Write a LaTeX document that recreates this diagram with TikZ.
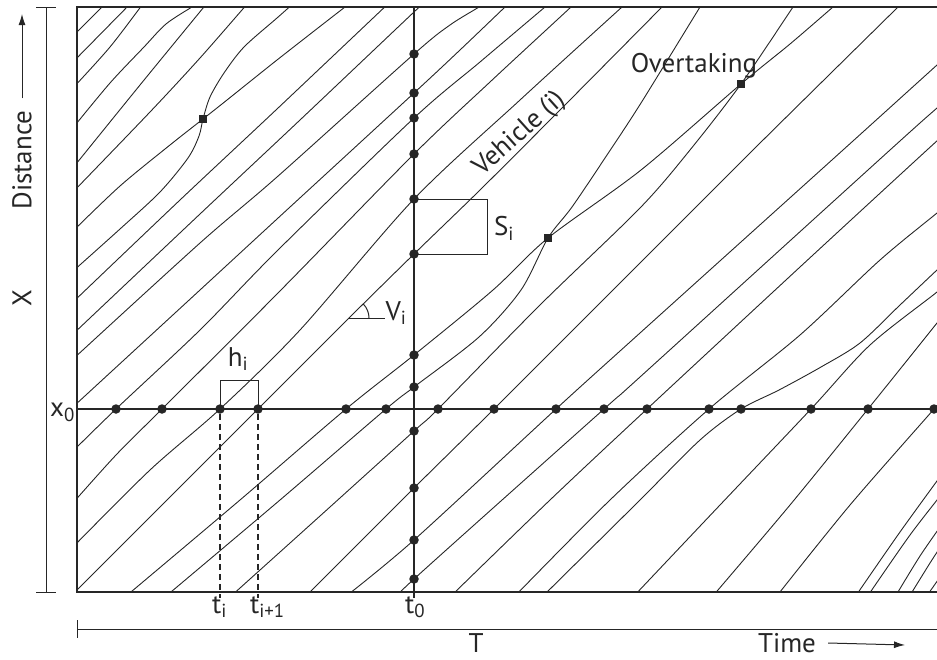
\documentclass[tikz,border=0pt]{standalone}
\usepackage{fontspec}
\setmainfont{PT Sans}
\usetikzlibrary{arrows.meta}
\definecolor{ink}{HTML}{262626}

\begin{document}
\begin{tikzpicture}[x=1pt, y=-1pt,
    veh/.style={draw=ink, line width=0.9pt},
    frame/.style={draw=ink, line width=1.2pt},
    arr/.style={draw=ink, line width=1pt, -{Latex[length=11pt,width=7pt]}},
    dot/.style={circle, fill=ink, inner sep=0, minimum size=9.5pt},
    pass/.style={rectangle, fill=ink, inner sep=0, minimum size=8.5pt},
    lbl/.style={text=ink, font=\fontsize{27}{30}\selectfont, inner sep=0}
]
\useasboundingbox (0,0) rectangle (937,659);

% Trajectories
\begin{scope}
\clip (77,7) rectangle (937,592);
\draw[veh] plot[smooth] coordinates {(66,43) (106,3)};
\draw[veh] plot[smooth] coordinates {(72,63) (132,2)};
\draw[veh] plot[smooth] coordinates {(72,89) (110,47) (145,1)};
\draw[veh] plot[smooth] coordinates {(72,129) (110,83) (144,47) (166,24) (192,7) (200,3)};
\draw[veh] plot[smooth] coordinates {(72,169) (140,85) (208,2)};
\draw[veh] plot[smooth] coordinates {(72,193) (150,112) (200,58) (248,3)};
\draw[veh] plot[smooth] coordinates {(72,232) (120,186) (170,145) (203,119) (227,100) (277,60) (345,7) (352,2)};
\draw[veh] plot[smooth] coordinates {(72,272) (120,229) (160,192) (188,158) (199,136) (203,119) (210,97) (224,73) (244,47) (277,18) (295,2)};
\draw[veh] plot[smooth] coordinates {(72,303) (180,200) (277,109) (390,2)};
\draw[veh] plot[smooth] coordinates {(72,335) (200,214) (300,120) (414,12) (425,2)};
\draw[veh] plot[smooth] coordinates {(72,360) (200,243) (277,177) (414,54) (450,25) (479,7) (485,2)};
\draw[veh] plot[smooth] coordinates {(74,406) (200,290) (277,219) (414,93) (460,50) (505,7) (510,2)};
\draw[veh] plot[smooth] coordinates {(72,452) (116,409) (200,330) (277,251) (414,118) (480,62) (545,7) (551,2)};
\draw[veh] plot[smooth] coordinates {(72,504) (116,455) (162,409) (277,294) (414,154) (490,82) (571,7) (576,2)};
\draw[veh] plot[smooth] coordinates {(72,548) (150,470) (220,409) (300,330) (414,199) (520,100) (622,7) (628,2)};
\draw[veh] plot[smooth] coordinates {(72,595) (180,487) (258,409) (349,318) (414,254) (480,190) (560,110) (662,7) (667,2)};
\draw[veh] plot[smooth] coordinates {(125,597) (240,500) (346,409) (414,355) (493,290) (548,238) (641,170) (741,84) (790,44) (833,7) (839,2)};
\draw[veh] plot[smooth] coordinates {(165,597) (280,500) (386,409) (414,387) (479,337) (521,290) (548,238) (572,207) (607,155) (641,103) (700,7) (704,1)};
\draw[veh] plot[smooth] coordinates {(230,597) (320,516) (414,431) (438,409) (540,305) (640,208) (690,150) (741,84) (793,7) (797,1)};
\draw[veh] plot[smooth] coordinates {(305,597) (414,488) (494,409) (640,263) (753,150) (898,7) (903,2)};
\draw[veh] plot[smooth] coordinates {(345,597) (414,540) (556,409) (640,333) (843,150) (937,65) (945,58)};
\draw[veh] plot[smooth] coordinates {(398,597) (414,579) (604,409) (640,377) (890,150) (937,108) (945,101)};
\draw[veh] plot[smooth] coordinates {(450,597) (550,500) (647,409) (800,267) (927,150) (945,134)};
\draw[veh] plot[smooth] coordinates {(514,597) (610,500) (709,409) (800,335) (880,260) (937,213) (945,206)};
\draw[veh] plot[smooth] coordinates {(542,597) (640,500) (700,440) (741,409) (779,390) (821,367) (860,343) (900,305) (937,270) (945,263)};
\draw[veh] plot[smooth] coordinates {(633,597) (720,505) (811,409) (870,345) (937,292) (945,283)};
\draw[veh] plot[smooth] coordinates {(712,597) (790,505) (868,409) (937,323) (945,313)};
\draw[veh] plot[smooth] coordinates {(776,597) (850,505) (934,409) (945,396)};
\draw[veh] plot[smooth] coordinates {(855,597) (900,532) (945,470)};
\draw[veh] plot[smooth] coordinates {(867,597) (910,535) (945,490)};
\draw[veh] plot[smooth] coordinates {(895,597) (920,556) (945,520)};
\draw[veh] plot[smooth] coordinates {(909,597) (930,563) (945,540)};
\draw[veh] plot[smooth] coordinates {(926,597) (945,570)};
\end{scope}

% Frame and reference lines
\draw[frame] (937,7) -- (77,7) -- (77,592) -- (937,592);
\coordinate (x0l) at (77,409);
\coordinate (x0r) at (937,409);
\coordinate (t0t) at (414,7);
\coordinate (t0b) at (414,598);
\draw[frame] (x0l) -- (x0r);
\draw[frame] (t0t) -- (t0b);

% Detectors
\foreach \t [count=\k] in {116,162,220,258,346,386,438,494,556,604,647,709,741,811,868,934}
  \node[dot] (h\k) at (\t,409) {};
\foreach \s [count=\k] in {54,93,118,154,199,254,355,387,431,488,540,579}
  \node[dot] (v\k) at (414,\s) {};
\node[pass] (ov1) at (203,119) {};
\node[pass] (ov2) at (548,238) {};
\node[pass] (ov3) at (741,84) {};

% Headway, spacing, speed
\coordinate (ti) at (220,598);
\coordinate (tj) at (258,598);
\draw[ink, line width=1.6pt, dash pattern=on 6pt off 4pt] (h3) -- (ti);
\draw[ink, line width=1.6pt, dash pattern=on 6pt off 4pt] (h4) -- (tj);
\draw[ink, line width=1pt] (h3.center) -- ++(0,-29) -| (h4.center);
\draw[ink, line width=1pt] (v5.center) -- ++(73,0) |- (v6.center);
\coordinate (vv) at (349,318);
\draw[ink, line width=1pt] (vv) -- ++(36,0);
\draw[ink, line width=1pt] (vv) ++(20,0) arc[start angle=0, end angle=-45, radius=20];

% Labels
\node[lbl] at (238,359) {h\textsubscript{i}};
\node[lbl] at (504,228) {S\textsubscript{i}};
\node[lbl] at (396,313) {V\textsubscript{i}};
\node[lbl] at (694,66) {Overtaking};
\node[lbl, rotate=42] at (520,134) {Vehicle (i)};
\node[lbl, anchor=east] at (75,412) {x\textsubscript{0}};
\node[lbl, anchor=north west] at (212,596) {t\textsubscript{i}};
\node[lbl, anchor=north west] at (250,596) {t\textsubscript{i+1}};
\node[lbl, anchor=north west] at (405,596) {t\textsubscript{0}};

% Axes
\draw[ink, line width=1pt] (46,7) -- (46,592);
\draw[ink, line width=1pt] (36,7) -- (56,7) (36,592) -- (56,592);
\node[lbl, rotate=90] (xlab) at (22,298) {X};
\node[lbl, rotate=90] (dist) at (22,160) {Distance};
\coordinate (up) at (22,14);
\draw[arr] ([yshift=12pt]dist.east) -- (up);
\draw[ink, line width=1pt] (77,629) -- (937,629);
\draw[ink, line width=1pt] (77,620) -- (77,638);
\node[lbl] (tlab) at (476,643) {T};
\node[lbl] (time) at (787,643) {Time};
\coordinate (right) at (905,645);
\draw[arr] ([xshift=12pt]time.east) -- (right);
\end{tikzpicture}
\end{document}
